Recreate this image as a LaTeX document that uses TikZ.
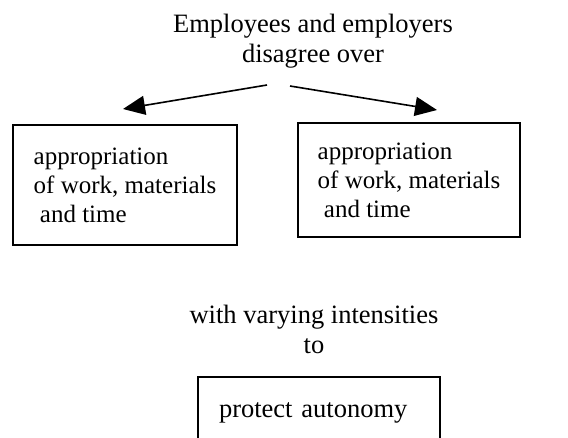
\documentclass[tikz,border=0pt]{standalone}
\usepackage{fontspec}
\setmainfont{Liberation Serif}
\usetikzlibrary{arrows.meta}
\begin{document}
\begin{tikzpicture}[x=1pt,y=-1pt,
  lbl/.style={font=\fontsize{26.5}{30}\selectfont, align=center, inner sep=0pt},
  box/.style={draw, line width=1.8pt, font=\fontsize{25}{29}\selectfont, align=left, inner sep=0pt},
  arr/.style={line width=1.6pt, -{Triangle[length=22pt,width=19pt]}}
]
\useasboundingbox (0,0) rectangle (568,438);
\begin{scope}
\clip (0,0) rectangle (568,438);
\node[lbl] (title) at (313,41) {Employees and employers\\disagree over};
\coordinate (ls) at (267,85);
\coordinate (le) at (123,109);
\coordinate (rs) at (290,86);
\coordinate (re) at (437,110);
\draw[arr] (ls) -- (le);
\draw[arr] (rs) -- (re);
\node[box, minimum width=224pt, minimum height=120pt] (left) at (125,185)
  {appropriation\\of work, materials\\\ and time};
\node[box, minimum width=222pt, minimum height=114pt] (right) at (409,180)
  {appropriation\\of work, materials\\\ and time};
\node[lbl] (mid) at (314,329.5) {with varying intensities\\to};
\node[box, font=\fontsize{26.5}{30}\selectfont, minimum width=242pt, minimum height=71pt, text width=200pt] (prot) at (319,412.5)
  {protect autonomy};
\end{scope}
\end{tikzpicture}
\end{document}
